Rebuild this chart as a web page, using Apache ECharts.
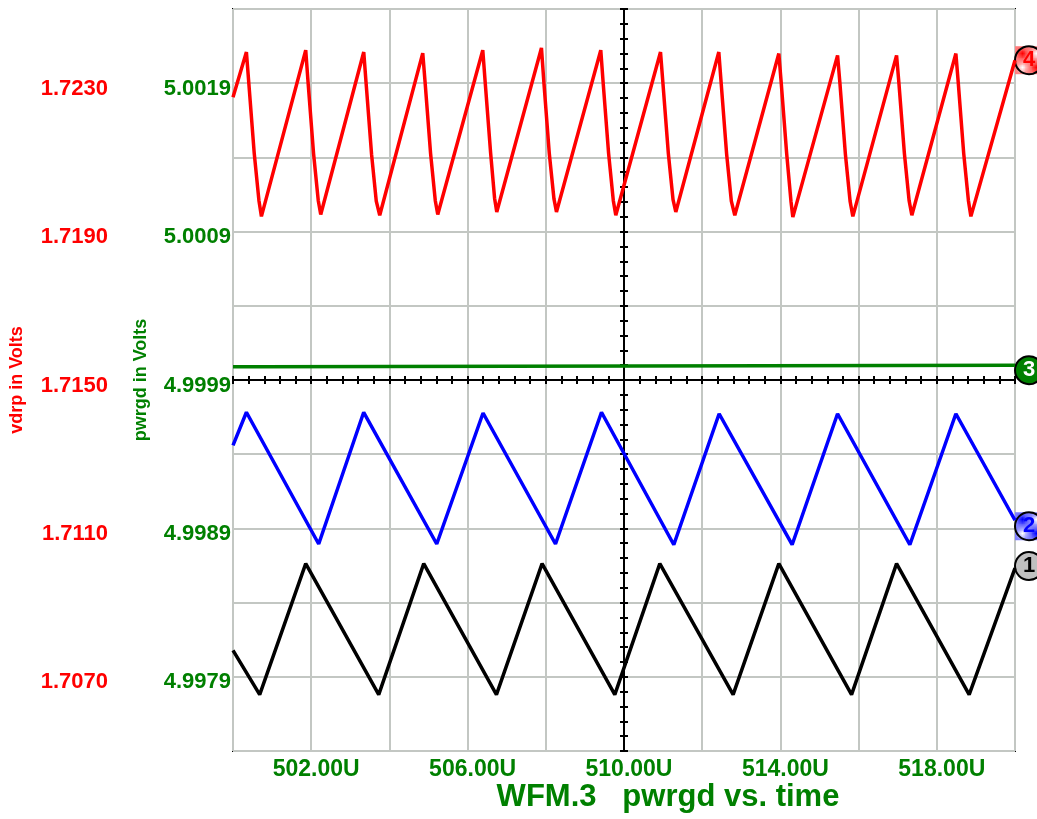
<!DOCTYPE html>
<html><head><meta charset="utf-8">
<script src="https://cdn.jsdelivr.net/npm/echarts@6/dist/echarts.min.js"></script>
<style>html,body{margin:0;padding:0;background:#fff}#chart{width:1037px;height:819px}</style>
</head><body><div id="chart"></div>
<script>
// ---- axis settings / tick labels ----
const timeRange = [500, 520];
const xTickLabels = ['502.00U', '506.00U', '510.00U', '514.00U', '518.00U'];
const vdrpRange = [1.7050, 1.7250];
const vdrpTickLabels = ['1.7230', '1.7190', '1.7150', '1.7110', '1.7070'];
const pwrgdRange = [4.9974, 5.0024];
const pwrgdTickLabels = ['5.0019', '5.0009', '4.9999', '4.9989', '4.9979'];
const titleText = 'WFM.3   pwrgd vs. time';

// ---- traces: [time (U), volts] ----
const vdrpTrace = [
  [500.000, 1.72262], [500.343, 1.72384], [500.403, 1.72302], [500.543, 1.72111], [500.663, 1.71984], [500.727, 1.71941],
  [501.860, 1.72389], [501.920, 1.72302], [502.060, 1.72111], [502.180, 1.71984], [502.244, 1.71946],
  [503.344, 1.72384], [503.404, 1.72300], [503.544, 1.72108], [503.664, 1.71982], [503.753, 1.71944],
  [504.853, 1.72381], [504.913, 1.72302], [505.053, 1.72111], [505.173, 1.71984], [505.237, 1.71946],
  [506.388, 1.72389], [506.448, 1.72305], [506.588, 1.72113], [506.690, 1.71990], [506.746, 1.71953],
  [507.889, 1.72395], [507.949, 1.72305], [508.089, 1.72111], [508.209, 1.71988], [508.273, 1.71953],
  [509.406, 1.72389], [509.466, 1.72302], [509.606, 1.72111], [509.726, 1.71984], [509.790, 1.71944],
  [510.934, 1.72384], [510.994, 1.72302], [511.134, 1.72111], [511.254, 1.71986], [511.325, 1.71953],
  [512.425, 1.72384], [512.485, 1.72300], [512.625, 1.72109], [512.745, 1.71982], [512.834, 1.71944],
  [513.960, 1.72380], [514.020, 1.72302], [514.160, 1.72111], [514.270, 1.71982], [514.318, 1.71939],
  [515.462, 1.72375], [515.522, 1.72300], [515.662, 1.72109], [515.782, 1.71982], [515.853, 1.71941],
  [516.971, 1.72375], [517.031, 1.72300], [517.171, 1.72111], [517.291, 1.71984], [517.362, 1.71944],
  [518.488, 1.72380], [518.548, 1.72302], [518.688, 1.72111], [518.808, 1.71984], [518.872, 1.71941],
  [520.000, 1.72362]
];
const pwrgdTrace = [
  [500.000, 4.99999], [500.680, 4.99999], [500.700, 5.00000], [520.000, 5.00000]
];
const ch2Trace = [
  [500.000, 1.71324], [500.343, 1.71413], [502.192, 1.71058], [503.343, 1.71413], [505.211, 1.71058],
  [506.395, 1.71411], [508.248, 1.71058], [509.424, 1.71413], [511.274, 1.71056], [512.433, 1.71409],
  [514.300, 1.71056], [515.462, 1.71409], [517.311, 1.71056], [518.488, 1.71409], [520.000, 1.71122]
];
const ch1Trace = [
  [500.000, 1.70771], [500.683, 1.70652], [501.860, 1.71005], [503.727, 1.70652], [504.878, 1.71005],
  [506.738, 1.70652], [507.905, 1.71005], [509.765, 1.70652], [510.916, 1.71005], [512.791, 1.70652],
  [513.960, 1.71005], [515.820, 1.70652], [516.971, 1.71005], [518.828, 1.70652], [520.000, 1.70993]
];

// ---- styling ----
const RED = '#ff0000', GREEN = '#008000', BLUE = '#0000ff', BLACK = '#000000';
const FONT = '"Liberation Sans", Arial, sans-serif';
const GRIDC = '#c3c7c3';

function checker(color) {
  const c = document.createElement('canvas');
  c.width = 2; c.height = 2;
  const g = c.getContext('2d');
  g.fillStyle = '#ffffff'; g.fillRect(0, 0, 2, 2);
  g.fillStyle = color; g.fillRect(0, 0, 1, 1); g.fillRect(1, 1, 1, 1);
  return { image: c, repeat: 'repeat' };
}

function endMarker(trace, num, fill, textColor, dy, checkered) {
  const last = trace[trace.length - 1];
  const items = [];
  if (checkered) {
    items.push({ coord: last, symbol: 'rect', symbolSize: 28, symbolOffset: [14, dy],
      itemStyle: { color: checker(fill) }, label: { show: false } });
  }
  items.push({ coord: last, symbol: 'circle', symbolSize: 28, symbolOffset: [14, dy],
    itemStyle: { color: checkered ? 'rgba(0,0,0,0)' : fill, borderColor: '#000', borderWidth: 2 },
    label: { show: true, formatter: num, color: textColor, fontSize: 22, fontWeight: 'bold', fontFamily: FONT } });
  return { silent: true, animation: false, data: items };
}

function lineSeries(name, data, color, yIdx, marker) {
  return { name, type: 'line', data, xAxisIndex: 0, yAxisIndex: yIdx, showSymbol: false,
    lineStyle: { color, width: 3.5 }, itemStyle: { color }, animation: false, markPoint: marker, z: 5 };
}

const crossX = (inside, showLine) => ({
  type: 'value', min: timeRange[0], max: timeRange[1], interval: 0.4, position: 'bottom', offset: -371,
  axisLine: { show: showLine, onZero: false, lineStyle: { color: '#000', width: 2 } },
  axisTick: { show: true, inside, length: 4, lineStyle: { color: '#000', width: 2 } },
  axisLabel: { show: false }, splitLine: { show: false }, z: 4
});
const crossY = (inside, showLine) => ({
  type: 'value', min: vdrpRange[0], max: vdrpRange[1], interval: 0.0004, position: 'left', offset: -391,
  axisLine: { show: showLine, onZero: false, lineStyle: { color: '#000', width: 2 } },
  axisTick: { show: true, inside, length: 4, lineStyle: { color: '#000', width: 2 } },
  axisLabel: { show: false }, splitLine: { show: false }, z: 4
});

const chart = echarts.init(document.getElementById('chart'), null, { renderer: 'canvas' });
chart.setOption({
  animation: false,
  backgroundColor: '#ffffff',
  grid: { left: 233, right: 22, top: 9, bottom: 68, show: true, borderColor: '#000', borderWidth: 2,
    backgroundColor: '#ffffff', containLabel: false, outerBoundsMode: 'none' },
  xAxis: [
    { type: 'value', min: timeRange[0], max: timeRange[1], interval: 2, position: 'bottom',
      axisLine: { show: false }, axisTick: { show: false },
      splitLine: { show: true, lineStyle: { color: GRIDC, width: 2 } },
      axisLabel: { show: true, margin: 7, color: GREEN, fontSize: 23, fontWeight: 'bold', fontFamily: FONT,
        padding: [0, 0, 0, 10], showMinLabel: false, showMaxLabel: false,
        formatter: v => { const s = v.toFixed(2) + 'U'; return xTickLabels.includes(s) ? s : ''; } } },
    crossX(false, true),
    crossX(true, false)
  ],
  yAxis: [
    { type: 'value', min: vdrpRange[0], max: vdrpRange[1], interval: 0.002, position: 'left',
      name: 'vdrp in Volts', nameLocation: 'middle', nameRotate: 90, nameGap: 207,
      nameTextStyle: { color: RED, fontSize: 18, fontWeight: 'bold', fontFamily: FONT },
      axisLine: { show: false }, axisTick: { show: false },
      splitLine: { show: true, lineStyle: { color: GRIDC, width: 2 } },
      axisLabel: { show: true, margin: 125, color: RED, fontSize: 22, fontWeight: 'bold', fontFamily: FONT,
        verticalAlign: 'top', lineHeight: 11,
        formatter: v => { const s = v.toFixed(4); return vdrpTickLabels.includes(s) ? s : ''; } } },
    { type: 'value', min: pwrgdRange[0], max: pwrgdRange[1], interval: 0.0005, position: 'left',
      name: 'pwrgd in Volts', nameLocation: 'middle', nameRotate: 90, nameGap: 83,
      nameTextStyle: { color: GREEN, fontSize: 18, fontWeight: 'bold', fontFamily: FONT },
      axisLine: { show: false }, axisTick: { show: false }, splitLine: { show: false },
      axisLabel: { show: true, margin: 2, color: GREEN, fontSize: 22, fontWeight: 'bold', fontFamily: FONT,
        verticalAlign: 'top', lineHeight: 11,
        formatter: v => { const s = v.toFixed(4); return pwrgdTickLabels.includes(s) ? s : ''; } } },
    crossY(false, true),
    crossY(true, false)
  ],
  series: [
    lineSeries('vdrp', vdrpTrace, RED, 0, endMarker(vdrpTrace, '4', RED, RED, 0, true)),
    lineSeries('pwrgd', pwrgdTrace, GREEN, 1, endMarker(pwrgdTrace, '3', GREEN, '#ffffff', 5, false)),
    lineSeries('ch2', ch2Trace, BLUE, 0, endMarker(ch2Trace, '2', BLUE, BLUE, 6, true)),
    lineSeries('ch1', ch1Trace, BLACK, 0, endMarker(ch1Trace, '1', '#c0c0c0', BLACK, -2, false))
  ],
  graphic: [
    { type: 'text', x: 668, y: 797, z: 10,
      style: { text: titleText, fill: GREEN, font: 'bold 31px ' + FONT, align: 'center', verticalAlign: 'middle',
        textAlign: 'center', textVerticalAlign: 'middle' } }
  ]
});
</script>
</body></html>
